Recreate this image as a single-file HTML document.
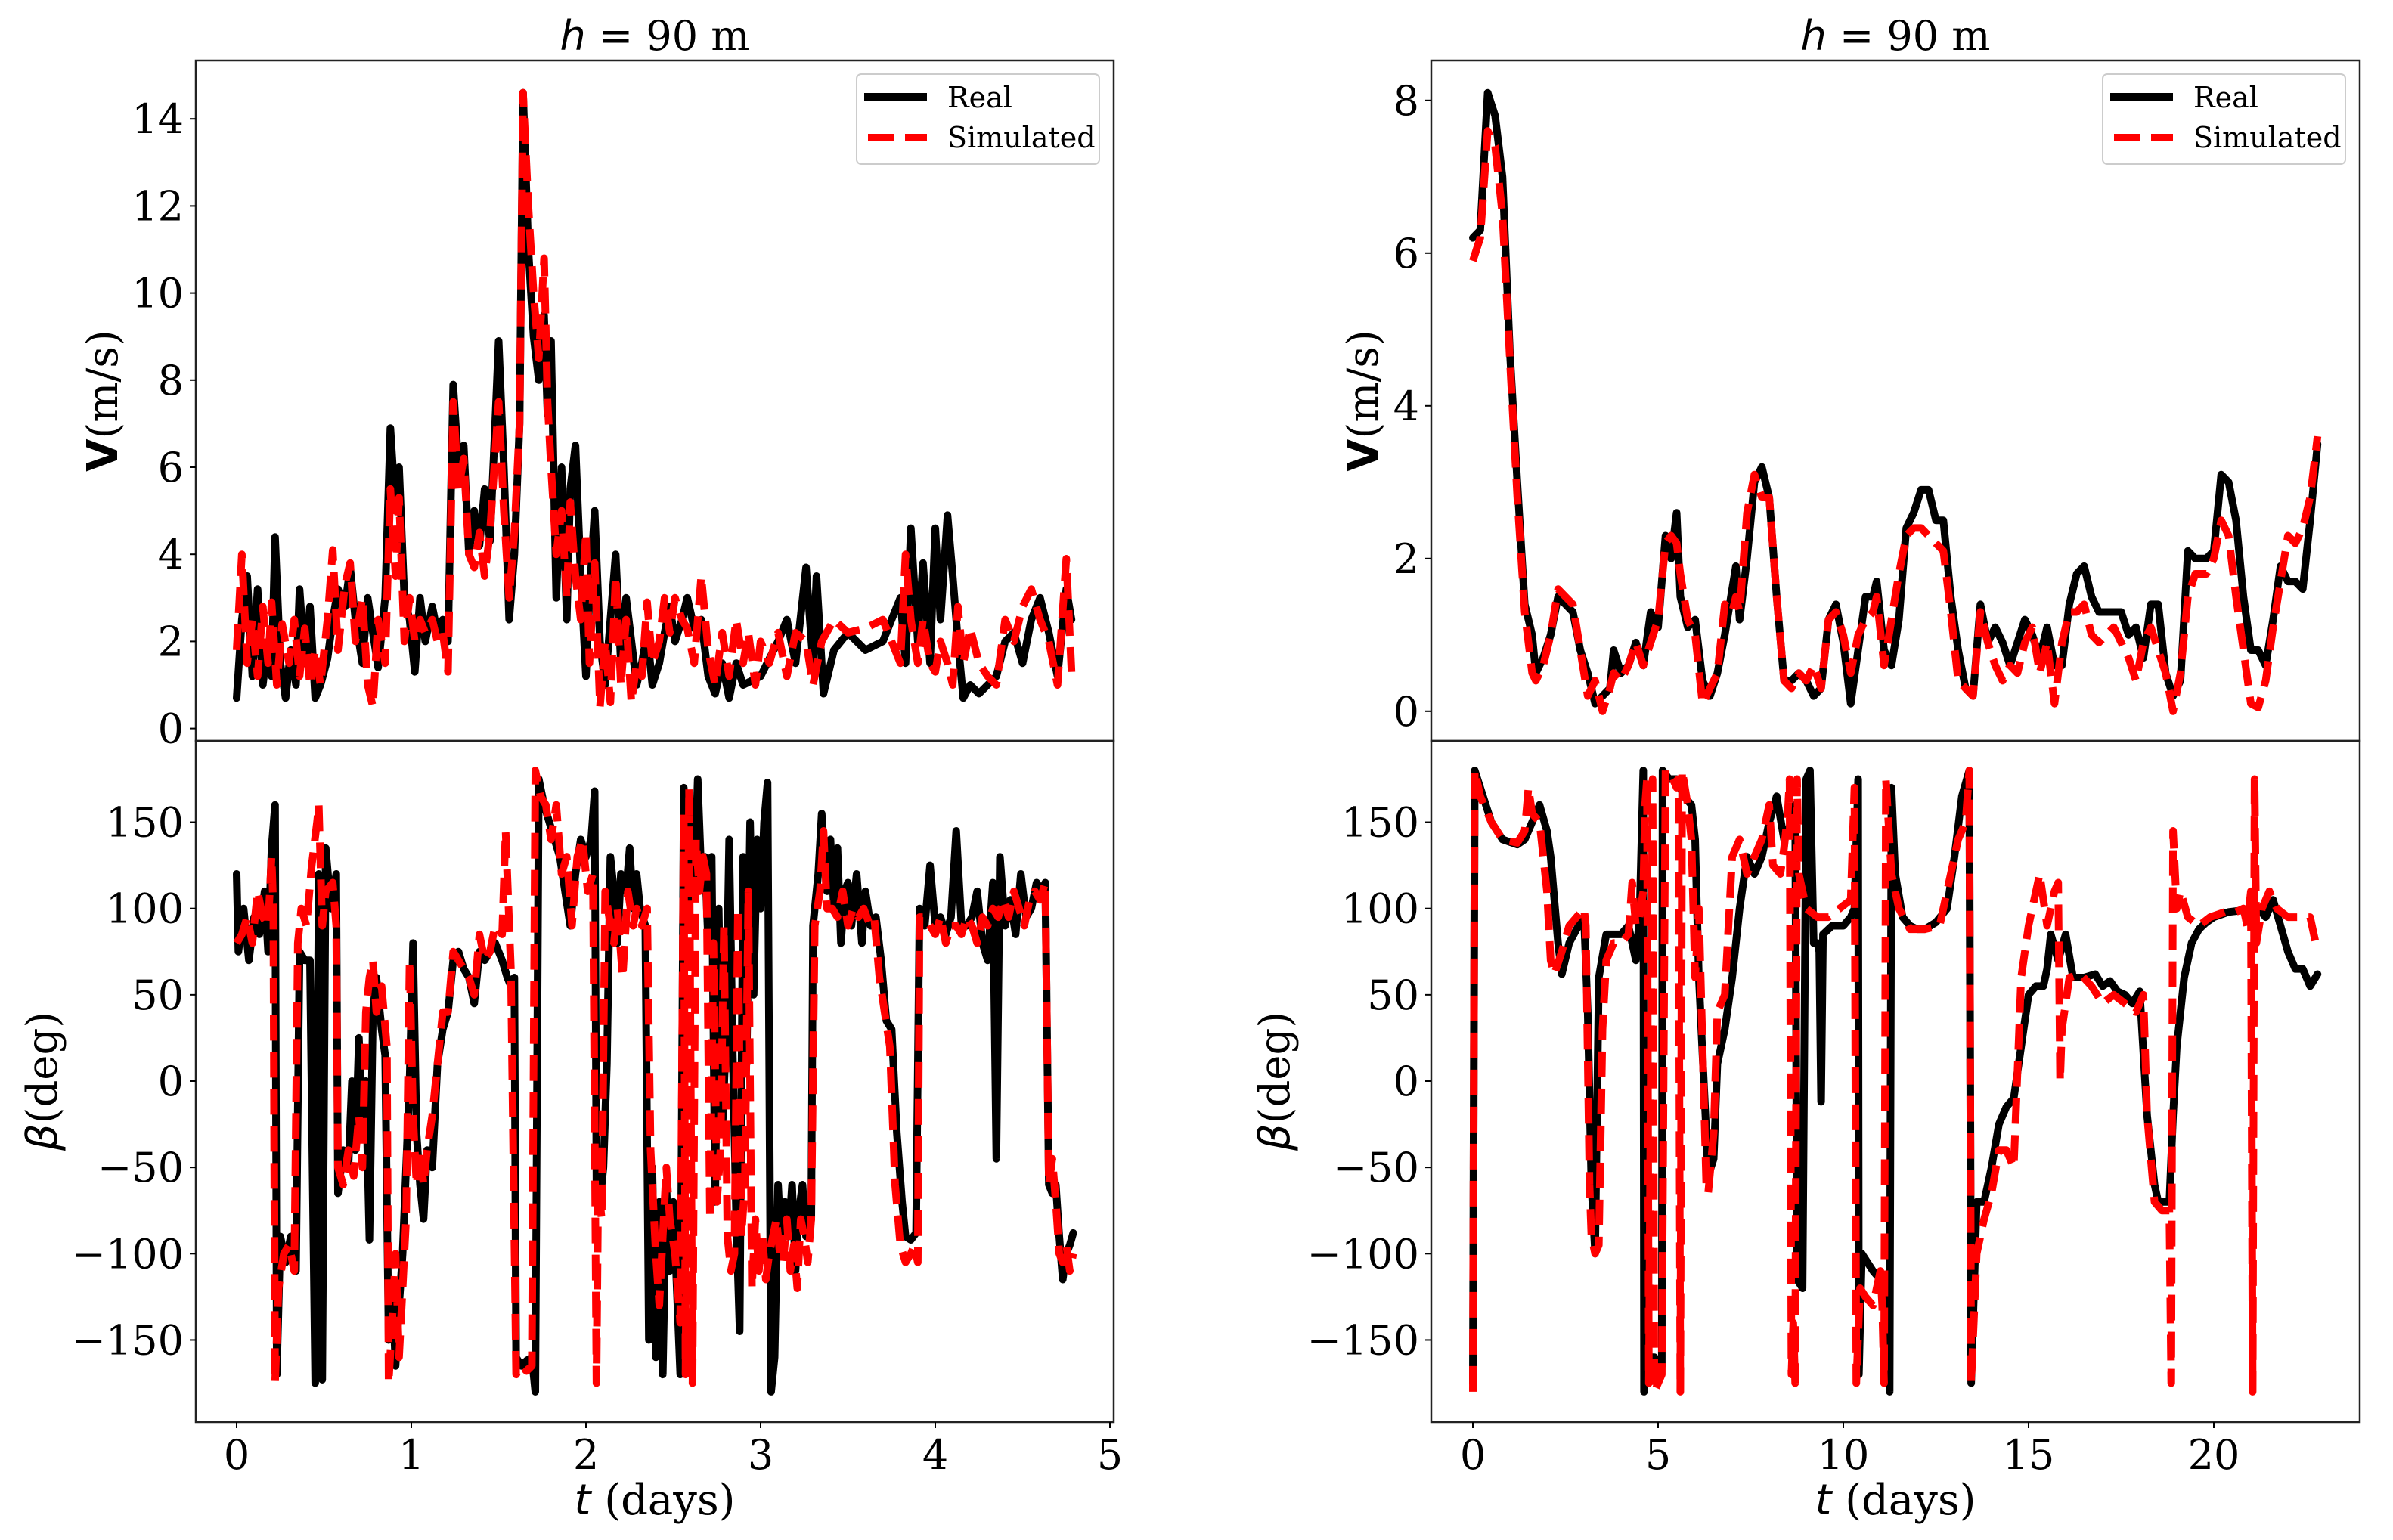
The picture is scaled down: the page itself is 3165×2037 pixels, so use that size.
<!DOCTYPE html>
<html><head><meta charset="utf-8">
<style>
html,body{margin:0;padding:0;background:#fff;}
svg{display:block;}
text{font-family:"DejaVu Serif","Liberation Serif",serif;fill:#000;}
</style></head>
<body>
<svg id="fig" xmlns="http://www.w3.org/2000/svg" width="3165" height="2037" viewBox="0 0 3165 2037">
<rect width="3165" height="2037" fill="#fff"/>
<defs>
<clipPath id="c1"><rect x="259" y="80" width="1214" height="900"/></clipPath>
<clipPath id="c2"><rect x="259" y="980" width="1214" height="901"/></clipPath>
<clipPath id="c3"><rect x="1893" y="80" width="1228" height="900"/></clipPath>
<clipPath id="c4"><rect x="1893" y="980" width="1228" height="901"/></clipPath>
</defs>
<g id="layer"></g>
</svg>
<script>
// ---- Left top: speed, 0..4.8 days
const tRealTL=[0,0.03,0.06,0.09,0.12,0.15,0.18,0.2,0.22,0.25,0.28,0.31,0.34,0.36,0.39,0.42,0.45,0.48,0.52,0.55,0.58,0.62,0.65,0.68,0.72,0.75,0.78,0.81,0.85,0.88,0.91,0.93,0.96,0.99,1.02,1.05,1.08,1.12,1.15,1.18,1.21,1.24,1.27,1.30,1.33,1.36,1.39,1.42,1.45,1.48,1.50,1.53,1.56,1.59,1.62,1.64,1.67,1.70,1.73,1.76,1.78,1.80,1.83,1.86,1.89,1.91,1.94,1.97,2.00,2.02,2.05,2.08,2.11,2.14,2.17,2.20,2.23,2.26,2.29,2.32,2.35,2.38,2.42,2.45,2.48,2.51,2.55,2.58,2.62,2.66,2.70,2.74,2.78,2.82,2.86,2.9,3.0,3.1,3.15,3.2,3.26,3.3,3.32,3.36,3.42,3.5,3.6,3.7,3.8,3.83,3.86,3.9,3.93,3.97,4.0,4.03,4.07,4.1,4.13,4.16,4.2,4.25,4.3,4.35,4.4,4.45,4.5,4.55,4.6,4.65,4.7,4.75,4.78];
const vRealTL=[0.7,2.5,3.5,1.2,3.2,1.0,2.0,1.2,4.4,1.5,0.7,1.8,1.0,3.2,1.5,2.8,0.7,1.0,1.6,2.5,3.2,2.8,3.7,2.5,1.5,3.0,2.2,1.4,3.0,6.9,5.0,6.0,3.0,2.5,1.3,3.0,2.0,2.8,2.2,2.5,2.0,7.9,6.0,6.5,4.0,5.0,4.2,5.5,4.3,7.0,8.9,6.0,2.5,4.0,7.0,14.6,11.0,9.0,8.0,9.5,7.2,8.9,3.0,6.0,2.5,5.5,6.5,3.5,1.2,3.0,5.0,2.0,1.0,2.5,4.0,1.5,3.0,2.0,1.0,1.5,2.2,1.0,1.5,2.2,2.8,2.0,2.5,3.0,2.3,2.5,1.2,0.8,1.5,0.7,1.5,1.0,1.2,2.0,2.5,1.5,3.7,1.5,3.5,0.8,1.8,2.2,1.8,2.0,3.0,1.5,4.6,2.0,3.8,1.5,4.6,2.5,4.9,3.5,2.0,0.7,1.0,0.8,1.0,1.2,2.0,2.2,1.5,2.5,3.0,2.2,1.2,3.2,2.5];
const tSimTL=[0,0.03,0.06,0.09,0.12,0.15,0.18,0.2,0.23,0.26,0.3,0.33,0.36,0.39,0.42,0.45,0.48,0.52,0.55,0.58,0.62,0.65,0.68,0.72,0.75,0.78,0.81,0.85,0.88,0.91,0.93,0.96,0.99,1.02,1.05,1.08,1.12,1.15,1.18,1.21,1.24,1.27,1.30,1.33,1.36,1.39,1.42,1.45,1.48,1.5,1.53,1.56,1.59,1.62,1.64,1.67,1.70,1.73,1.76,1.78,1.80,1.83,1.86,1.89,1.91,1.94,1.97,2.00,2.02,2.05,2.08,2.11,2.14,2.17,2.2,2.23,2.26,2.29,2.32,2.35,2.38,2.42,2.45,2.48,2.51,2.55,2.58,2.62,2.66,2.70,2.74,2.78,2.82,2.86,2.9,2.93,2.97,3.0,3.05,3.1,3.15,3.2,3.26,3.3,3.35,3.42,3.5,3.6,3.7,3.8,3.83,3.86,3.9,3.93,3.97,4.0,4.03,4.07,4.1,4.13,4.16,4.2,4.25,4.3,4.35,4.4,4.45,4.5,4.55,4.6,4.65,4.7,4.75,4.78];
const vSimTL=[1.8,4.0,1.5,2.5,1.2,2.8,1.5,2.9,1.0,2.4,1.5,2.5,1.2,2.3,1.0,1.8,1.0,2.5,4.1,1.8,3.3,3.8,2.0,3.0,1.0,0.5,2.5,1.5,5.5,3.5,5.3,2.0,3.0,2.0,2.5,2.2,2.5,2.0,2.2,1.3,7.5,5.5,6.2,4.0,3.7,4.5,3.5,4.5,6.3,7.5,5.0,3.0,4.5,7.0,14.6,12.0,10.0,8.5,10.8,7.5,6.0,4.0,5.0,3.0,5.2,3.5,2.5,4.5,1.5,3.8,0.5,2.0,0.6,3.5,1.0,2.5,0.6,1.5,1.2,2.9,1.5,2.0,3.0,2.2,3.0,2.5,2.3,1.5,3.5,1.8,1.0,2.2,1.2,2.5,1.5,2.2,1.0,2.0,1.5,2.2,1.2,2.2,2.0,1.0,2.0,2.5,2.2,2.3,2.5,1.5,4.0,2.5,1.5,2.5,1.5,1.3,2.0,1.5,1.0,2.8,1.5,2.3,1.5,1.2,1.0,2.5,2.0,2.8,3.2,2.5,2.0,1.0,3.9,1.3];
// ---- Left bottom: direction
const tRealBL=[0,0.01,0.04,0.07,0.10,0.13,0.16,0.18,0.2,0.22,0.23,0.25,0.28,0.31,0.34,0.36,0.39,0.42,0.45,0.47,0.49,0.51,0.54,0.57,0.58,0.61,0.64,0.66,0.68,0.70,0.72,0.74,0.76,0.78,0.80,0.83,0.85,0.87,0.89,0.91,0.93,0.95,0.97,0.99,1.01,1.03,1.05,1.07,1.09,1.12,1.15,1.18,1.21,1.24,1.27,1.30,1.33,1.36,1.39,1.42,1.45,1.48,1.52,1.55,1.57,1.59,1.60,1.63,1.66,1.69,1.71,1.73,1.76,1.79,1.82,1.85,1.88,1.91,1.94,1.97,2.00,2.03,2.05,2.06,2.08,2.10,2.12,2.14,2.16,2.18,2.20,2.23,2.25,2.27,2.29,2.31,2.34,2.36,2.38,2.40,2.42,2.44,2.46,2.48,2.50,2.52,2.54,2.56,2.58,2.60,2.62,2.64,2.66,2.68,2.70,2.72,2.74,2.76,2.78,2.80,2.82,2.84,2.86,2.88,2.90,2.92,2.94,2.96,2.98,3.00,3.02,3.04,3.06,3.08,3.10,3.12,3.14,3.16,3.18,3.20,3.22,3.24,3.26,3.29,3.30,3.33,3.35,3.38,3.40,3.42,3.44,3.46,3.48,3.50,3.52,3.55,3.58,3.60,3.63,3.66,3.69,3.72,3.75,3.78,3.81,3.83,3.86,3.89,3.91,3.94,3.97,4.00,4.03,4.06,4.09,4.12,4.15,4.18,4.21,4.24,4.27,4.30,4.33,4.35,4.37,4.40,4.43,4.46,4.49,4.52,4.55,4.58,4.61,4.63,4.65,4.67,4.69,4.71,4.73,4.75,4.77,4.79];
const bRealBL=[120,75,100,70,95,85,110,75,135,160,-170,-90,-105,-90,-110,75,70,70,-175,120,-173,135,100,120,-65,-40,-50,0,-40,25,-20,0,-92,40,60,30,15,-150,-120,-165,-130,-100,-50,0,80,-30,-60,-80,-40,-50,10,30,40,70,75,65,60,45,75,70,75,80,70,60,55,60,-160,-165,-162,-160,-180,175,160,150,140,130,110,90,120,140,130,140,168,-60,-70,-50,10,130,110,80,120,110,135,100,120,100,90,-150,-50,-160,-70,-170,-60,-110,-70,-120,-170,170,90,160,110,175,120,130,80,130,-70,100,-30,20,140,20,-80,-145,130,10,150,50,140,100,150,173,-180,-160,-60,-100,-70,-90,-60,-110,-75,-60,-90,-80,90,120,155,110,140,100,135,80,110,115,90,120,80,110,90,95,70,35,30,-30,-70,-90,-92,-88,100,90,125,90,95,85,95,145,90,90,95,110,80,70,115,-45,130,90,105,85,120,95,100,115,110,115,-60,-65,-60,-90,-115,-100,-95,-88];
const tSimBL=[0,0.03,0.06,0.09,0.12,0.15,0.18,0.2,0.21,0.22,0.24,0.27,0.30,0.33,0.35,0.37,0.40,0.43,0.46,0.47,0.49,0.51,0.55,0.57,0.58,0.61,0.64,0.67,0.70,0.72,0.74,0.76,0.78,0.80,0.83,0.86,0.87,0.89,0.91,0.93,0.95,0.97,0.99,1.01,1.03,1.05,1.07,1.09,1.12,1.15,1.18,1.21,1.24,1.27,1.30,1.33,1.36,1.39,1.42,1.45,1.48,1.52,1.54,1.57,1.60,1.63,1.66,1.69,1.71,1.74,1.77,1.80,1.83,1.86,1.89,1.92,1.95,1.98,2.01,2.04,2.06,2.07,2.09,2.11,2.14,2.16,2.18,2.21,2.24,2.27,2.29,2.32,2.35,2.37,2.40,2.42,2.44,2.46,2.48,2.51,2.54,2.56,2.57,2.59,2.61,2.63,2.65,2.67,2.69,2.71,2.73,2.75,2.77,2.79,2.81,2.83,2.85,2.87,2.89,2.91,2.93,2.95,2.97,2.99,3.01,3.03,3.05,3.07,3.09,3.11,3.13,3.15,3.17,3.19,3.21,3.23,3.25,3.27,3.29,3.31,3.34,3.36,3.38,3.41,3.44,3.47,3.50,3.53,3.56,3.59,3.62,3.65,3.68,3.71,3.74,3.77,3.80,3.83,3.86,3.88,3.90,3.91,3.94,3.97,4.00,4.03,4.06,4.09,4.12,4.15,4.18,4.21,4.24,4.27,4.30,4.33,4.36,4.39,4.42,4.45,4.48,4.51,4.54,4.57,4.60,4.63,4.65,4.67,4.69,4.71,4.73,4.75,4.77,4.79];
const bSimBL=[80,85,95,80,110,95,90,130,100,-175,-120,-100,-95,-110,80,100,90,125,150,160,90,110,115,90,-50,-60,-40,-55,-20,-50,40,60,70,40,55,20,-175,-140,-100,-160,-120,-80,70,-20,-60,-40,-60,-40,-20,10,40,40,75,70,65,60,50,85,70,75,90,85,145,65,-170,-165,-168,-165,180,165,160,140,160,120,130,90,130,140,110,120,-175,-60,-80,110,90,80,100,60,110,90,100,90,100,-40,-100,-130,-90,-50,-80,-100,-140,155,-170,170,-175,140,110,130,120,-80,80,-70,-40,90,-90,-110,-100,100,-90,-60,110,-120,-80,-110,-90,-115,-100,-90,-80,-100,-105,-80,-110,-95,-120,-80,-90,-105,-80,90,110,145,100,100,95,110,90,100,95,100,92,95,60,40,20,-60,-95,-105,-100,-95,-105,95,95,90,85,95,80,90,90,85,95,90,80,95,90,100,95,105,95,110,100,90,105,110,105,115,-60,-45,-70,-100,-105,-95,-110,-100];
// ---- Right top: speed, 0..22.8 days
const tRealTR=[0,0.2,0.4,0.6,0.8,1.0,1.2,1.4,1.6,1.7,1.9,2.1,2.3,2.5,2.7,2.9,3.1,3.3,3.5,3.7,3.8,4.0,4.2,4.4,4.6,4.8,5.0,5.2,5.35,5.5,5.6,5.8,6.0,6.2,6.4,6.6,6.8,7.0,7.1,7.2,7.4,7.6,7.8,8.0,8.2,8.4,8.6,8.8,9.0,9.2,9.4,9.6,9.8,10.0,10.2,10.4,10.6,10.8,10.9,11.1,11.3,11.5,11.7,11.9,12.1,12.3,12.5,12.7,12.9,13.1,13.3,13.5,13.7,13.9,14.1,14.3,14.5,14.7,14.9,15.1,15.3,15.5,15.7,15.9,16.1,16.3,16.5,16.7,16.9,17.1,17.3,17.5,17.7,17.9,18.1,18.3,18.5,18.7,18.9,19.1,19.3,19.5,19.8,20.0,20.2,20.4,20.6,20.8,21.0,21.2,21.4,21.6,21.8,22.0,22.2,22.4,22.6,22.8];
const vRealTR=[6.2,6.3,8.1,7.8,7.0,4.7,3.0,1.4,1.0,0.5,0.7,1.0,1.5,1.4,1.3,0.8,0.5,0.1,0.2,0.3,0.8,0.5,0.6,0.9,0.6,1.3,1.1,2.3,2.0,2.6,1.5,1.1,1.2,0.4,0.2,0.5,1.0,1.6,1.9,1.2,2.0,3.0,3.2,2.8,1.5,0.4,0.4,0.5,0.4,0.2,0.3,1.2,1.4,0.9,0.1,0.8,1.5,1.5,1.7,0.8,0.6,1.2,2.4,2.6,2.9,2.9,2.5,2.5,1.5,0.8,0.3,0.2,1.4,0.9,1.1,0.9,0.6,0.9,1.2,1.0,0.7,1.1,0.6,0.6,1.4,1.8,1.9,1.5,1.3,1.3,1.3,1.3,1.0,1.1,0.7,1.4,1.4,0.5,0.2,0.4,2.1,2.0,2.0,2.1,3.1,3.0,2.5,1.5,0.8,0.8,0.6,1.2,1.9,1.7,1.7,1.6,2.5,3.5];
const tSimTR=tRealTR.slice();
const vSimTR=[5.9,6.2,7.6,7.4,6.5,4.6,2.8,1.3,0.5,0.4,0.6,1.0,1.6,1.5,1.4,0.8,0.2,0.4,0.0,0.3,0.5,0.4,0.6,0.9,0.6,0.9,1.2,2.2,2.3,2.2,1.8,1.2,1.0,0.1,0.3,0.5,1.4,1.3,1.5,1.3,2.6,3.1,2.8,2.8,1.5,0.4,0.3,0.5,0.4,0.6,0.3,1.2,1.3,1.0,0.5,1.0,1.2,1.3,1.5,0.6,1.2,1.8,2.3,2.4,2.4,2.3,2.2,2.1,1.3,0.4,0.3,0.2,1.3,0.9,0.6,0.4,0.6,0.5,0.9,1.1,0.5,0.9,0.1,0.9,1.3,1.3,1.4,1.0,0.9,1.0,1.1,0.9,0.7,0.4,0.9,1.1,0.8,0.5,0.0,0.5,1.5,1.8,1.8,2.0,2.5,2.3,1.5,0.8,0.1,0.05,0.4,1.1,1.7,2.3,2.2,2.4,2.8,3.6];
// ---- Right bottom: direction
const tRealBR=[0,0.05,0.2,0.5,0.8,1.2,1.4,1.6,1.8,2.0,2.1,2.3,2.4,2.6,2.8,3.0,3.1,3.2,3.3,3.4,3.6,3.8,4.0,4.2,4.4,4.5,4.6,4.62,4.7,4.9,5.1,5.12,5.3,5.5,5.7,5.9,6.0,6.1,6.3,6.35,6.5,6.6,6.8,7.0,7.2,7.4,7.6,7.8,8.0,8.2,8.4,8.6,8.7,8.75,8.9,9.0,9.1,9.2,9.3,9.35,9.4,9.45,9.7,10.0,10.2,10.3,10.4,10.42,10.5,10.8,11.0,11.1,11.2,11.25,11.3,11.4,11.6,11.8,12.0,12.2,12.5,12.8,13.0,13.2,13.4,13.45,13.6,13.8,14.0,14.2,14.4,14.6,14.8,15.0,15.2,15.4,15.5,15.6,15.8,16.0,16.2,16.5,16.8,17.0,17.2,17.4,17.6,17.8,18.0,18.2,18.4,18.5,18.7,18.8,18.9,19.0,19.2,19.4,19.6,19.8,20.0,20.4,20.8,21.0,21.2,21.4,21.6,21.8,22.0,22.2,22.4,22.6,22.8];
const bRealBR=[-175,180,170,150,140,137,140,150,160,145,130,80,62,80,88,95,40,-60,-100,60,85,85,85,90,70,95,180,-180,-160,-160,-165,180,175,175,165,160,140,60,-30,-55,-45,10,30,60,100,130,120,130,150,165,140,150,160,-115,-120,175,180,80,80,75,-12,85,90,90,95,100,175,-170,-100,-110,-115,-115,-120,-180,170,120,95,90,88,88,92,100,130,165,180,-175,-70,-70,-50,-25,-15,-10,20,50,55,55,65,85,70,85,60,60,62,55,58,52,50,45,52,-20,-60,-70,-70,-70,-20,20,60,80,88,92,95,98,99,97,100,95,105,90,75,65,65,55,62];
const tSimBR=[0,0.05,0.2,0.5,0.8,1.2,1.4,1.5,1.6,1.8,2.0,2.1,2.2,2.4,2.6,2.8,3.0,3.05,3.15,3.2,3.3,3.4,3.5,3.6,3.8,4.0,4.2,4.3,4.4,4.5,4.6,4.65,4.7,4.75,4.85,4.9,5.0,5.1,5.2,5.4,5.5,5.55,5.6,5.65,5.8,5.9,6.0,6.1,6.2,6.3,6.35,6.5,6.6,6.8,7.0,7.2,7.4,7.6,7.8,8.0,8.1,8.3,8.4,8.5,8.55,8.6,8.65,8.7,8.75,8.8,8.9,9.0,9.3,9.6,9.9,10.2,10.3,10.35,10.45,10.6,10.8,11.0,11.05,11.1,11.15,11.3,11.5,11.8,12.2,12.6,12.9,13.1,13.3,13.4,13.45,13.6,13.8,14.0,14.2,14.4,14.6,14.8,15.0,15.2,15.3,15.5,15.7,15.8,15.85,15.9,16.1,16.4,16.7,17.0,17.3,17.6,17.9,18.1,18.2,18.4,18.6,18.8,18.85,18.9,19.0,19.1,19.3,19.6,19.9,20.3,20.6,20.8,20.9,21.0,21.05,21.1,21.15,21.3,21.5,21.7,22.0,22.4,22.6,22.8];
const bSimBR=[-180,180,165,150,140,138,145,170,155,150,110,70,62,75,90,95,100,90,-60,-90,-100,-95,30,70,80,80,85,115,90,95,110,160,175,-175,175,-180,-175,-170,180,175,170,175,-180,180,160,140,60,100,20,-60,-65,-30,40,50,130,140,120,130,140,160,125,120,135,155,175,-170,-140,-175,175,120,110,100,95,95,100,105,170,-175,-120,-125,-130,-110,-130,-175,175,120,100,88,88,90,120,140,150,180,-175,-100,-80,-65,-40,-40,-50,60,90,110,120,90,110,115,0,30,60,62,55,45,50,45,40,50,-20,-70,-75,-75,-175,145,100,110,95,90,95,98,98,100,90,110,-180,175,80,100,110,100,95,95,95,75];

const yTicksTL=[0,2,4,6,8,10,12,14];
const yTicksTR=[0,2,4,6,8];
const yTicksB=[-150,-100,-50,0,50,100,150];
const xTicksL=[0,1,2,3,4,5];
const xTicksR=[0,5,10,15,20];

const NS='http://www.w3.org/2000/svg';
const layer=document.getElementById('layer');
function mk(tag,attrs,parent){const e=document.createElementNS(NS,tag);for(const k in attrs)e.setAttribute(k,attrs[k]);(parent||layer).appendChild(e);return e;}

const xL=t=>313+t*231;
const xR=t=>1948+t*49;
const yVL=v=>963.6-v*57.6;
const yVR=v=>940.8-v*101;
const yB=b=>1430-b*2.283;

function series(ts,vs,fx,fy,clip,isSim,name){
  let d='';
  for(let i=0;i<ts.length;i++){d+=(i?'L':'M')+fx(ts[i]).toFixed(1)+' '+fy(vs[i]).toFixed(1);}
  const p=mk('path',{d:d,fill:'none',stroke:isSim?'#ff0000':'#000','stroke-width':10,'stroke-linejoin':'round','stroke-linecap':isSim?'butt':'round','clip-path':'url(#'+clip+')'});
  if(isSim)p.setAttribute('stroke-dasharray','34 15');
  
  
}
function yTicks(ticks,fy,x0,name){
  ticks.forEach(v=>{
    const y=fy(v);
    const l=mk('line',{x1:x0-8,x2:x0,y1:y,y2:y,stroke:'#000','stroke-width':2});
    
    
    const t=mk('text',{x:x0-16,y:y+19,'text-anchor':'end','font-size':54});
    t.textContent=(v<0?'\u2212'+(-v):String(v));
    
    
  });
}
function xTicks(ticks,fx,y0,name){
  ticks.forEach(v=>{
    const x=fx(v);
    const l=mk('line',{x1:x,x2:x,y1:y0,y2:y0+8,stroke:'#000','stroke-width':2});
    
    
    const t=mk('text',{x:x,y:y0+62,'text-anchor':'middle','font-size':54});
    t.textContent=String(v);
    
    
  });
}
function frame(x,y,w,h,name){
  const r=mk('rect',{x:x,y:y,width:w,height:h,fill:'none',stroke:'#222','stroke-width':2.5});
  
  
}
function legend(x0,name){
  const g=mk('g',{});
  
  
  mk('rect',{x:x0,y:98,width:321,height:119,rx:6,fill:'#fff','fill-opacity':0.85,stroke:'#cccccc','stroke-width':2},g);
  mk('line',{x1:x0+10,x2:x0+93,y1:128,y2:128,stroke:'#000','stroke-width':10},g);
  mk('line',{x1:x0+15,x2:x0+93,y1:182,y2:182,stroke:'#ff0000','stroke-width':10,'stroke-dasharray':'34 15'},g);
  const t1=mk('text',{x:x0+120,y:142,'font-size':38},g);t1.textContent='Real';
  
  
  const t2=mk('text',{x:x0+120,y:195,'font-size':38},g);t2.textContent='Simulated';
  
  
}
function title(cx,name){
  const t=mk('text',{x:cx,y:66,'text-anchor':'middle','font-size':54});
  t.innerHTML='<tspan font-style="italic" font-family="DejaVu Sans">h</tspan><tspan font-family="DejaVu Sans"> = </tspan>90 m';
  
  
}
function ylabelV(cx,cy,name){
  const t=mk('text',{x:0,y:0,'text-anchor':'middle','font-size':56,transform:'translate('+cx+','+cy+') rotate(-90)'});
  t.innerHTML='<tspan font-family="DejaVu Sans" font-weight="bold">V</tspan>(m/s)';
  
  
}
function ylabelB(cx,cy,name){
  const t=mk('text',{x:0,y:0,'text-anchor':'middle','font-size':56,transform:'translate('+cx+','+cy+') rotate(-90)'});
  t.innerHTML='<tspan font-family="DejaVu Sans" font-style="italic">\u03B2</tspan>(deg)';
  
  
}
function xlabel(cx,name){
  const t=mk('text',{x:cx,y:2003,'text-anchor':'middle','font-size':56});
  t.innerHTML='<tspan font-family="DejaVu Sans" font-style="italic">t</tspan> (days)';
  
  
}

// series
series(tRealTL,vRealTL,xL,yVL,'c1',false,'real-speed-left');
series(tSimTL,vSimTL,xL,yVL,'c1',true,'simulated-speed-left');
series(tRealBL,bRealBL,xL,yB,'c2',false,'real-direction-left');
series(tSimBL,bSimBL,xL,yB,'c2',true,'simulated-direction-left');
series(tRealTR,vRealTR,xR,yVR,'c3',false,'real-speed-right');
series(tSimTR,vSimTR,xR,yVR,'c3',true,'simulated-speed-right');
series(tRealBR,bRealBR,xR,yB,'c4',false,'real-direction-right');
series(tSimBR,bSimBR,xR,yB,'c4',true,'simulated-direction-right');

frame(259,80,1214,900,'speed-axes-left');
frame(259,980,1214,901,'direction-axes-left');
frame(1893,80,1228,900,'speed-axes-right');
frame(1893,980,1228,901,'direction-axes-right');

yTicks(yTicksTL,yVL,259,'speed-y-left');
yTicks(yTicksB,yB,259,'direction-y-left');
yTicks(yTicksTR,yVR,1893,'speed-y-right');
yTicks(yTicksB,yB,1893,'direction-y-right');
xTicks(xTicksL,xL,1881,'x-left');
xTicks(xTicksR,xR,1881,'x-right');

legend(1133,'legend-left');
legend(2781,'legend-right');
title(866,'title-left');
title(2507,'title-right');
ylabelV(155,530,'speed-y-title-left');
ylabelB(75,1430,'direction-y-title-left');
ylabelV(1822,530,'speed-y-title-right');
ylabelB(1705,1430,'direction-y-title-right');
xlabel(866,'x-axis-title-left');
xlabel(2507,'x-axis-title-right');
</script>
</body></html>
